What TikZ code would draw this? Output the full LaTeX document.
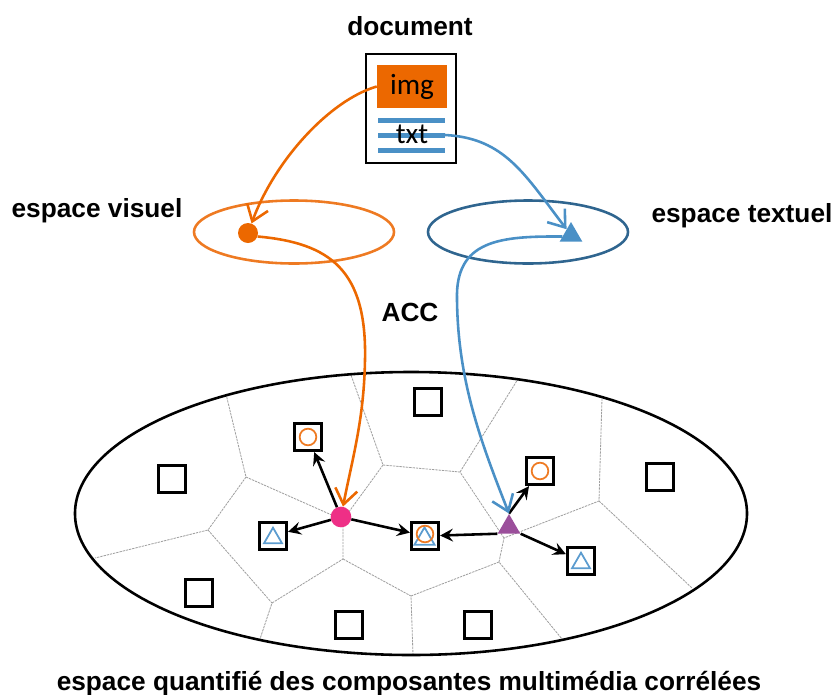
\documentclass[tikz,border=0pt]{standalone}
\usepackage{fontspec}
\setmainfont{Liberation Sans}
\newfontfamily\calibrifont{Carlito}
\usetikzlibrary{arrows.meta,shapes.geometric}
\definecolor{orangeimg}{HTML}{EC6800}
\definecolor{orangecl}{HTML}{EE7A22}
\definecolor{bluetxt}{HTML}{4A90C6}
\definecolor{bluedark}{HTML}{2F658F}
\definecolor{bluecl}{HTML}{5C9CCF}
\definecolor{pinkdot}{HTML}{EE2F86}
\definecolor{purpletri}{HTML}{9B4F9B}
\tikzset{
  titre/.style={font=\fontsize{22.4}{26}\selectfont\bfseries},
  carre/.style={draw=black, line width=3pt, minimum size=0.8cm, inner sep=0pt},
  rond/.style={circle, draw=orangecl, line width=1.5pt, minimum size=0.5cm, inner sep=0pt},
  tri/.style={regular polygon, regular polygon sides=3, draw=bluecl, line width=1.5pt, minimum size=0.62cm, inner sep=0pt},
  cellule/.style={gray!75, line width=0.7pt, dash pattern=on 2pt off 0.8pt},
  lien/.style={-{Stealth[length=11pt,width=11pt,inset=4pt]}, black, line width=2.2pt},
  flecheo/.style={-{Straight Barb[length=13pt,width=19pt]}, orangeimg, line width=2.2pt},
  flecheb/.style={-{Straight Barb[length=13pt,width=19pt]}, bluetxt, line width=2.2pt},
  ligne/.style={fill=bluetxt, minimum width=2.0cm, minimum height=0.15cm, inner sep=0pt}
}
\begin{document}
\begin{tikzpicture}[x=0.03cm, y=-0.03cm]
\useasboundingbox (0,0) rectangle (834,695);

% Cell corners of the quantified space
\coordinate (a) at (226,394);
\coordinate (b) at (246,477);
\coordinate (c) at (208,530);
\coordinate (d) at (95,558);
\coordinate (e) at (272,603);
\coordinate (f) at (260,639);
\coordinate (g) at (343,559);
\coordinate (h) at (343,520);
\coordinate (i) at (411,596);
\coordinate (j) at (413,655);
\coordinate (k) at (383,465);
\coordinate (l) at (351,375);
\coordinate (m) at (460,472);
\coordinate (n) at (518,379);
\coordinate (o) at (499,562);
\coordinate (p) at (504,538);
\coordinate (q) at (562,639);
\coordinate (r) at (599,501);
\coordinate (s) at (602,398);
\coordinate (t) at (692,588);

% Cell borders
\draw[cellule] (a) -- (b) -- (c) -- (d);
\draw[cellule] (c) -- (e) -- (f);
\draw[cellule] (e) -- (g) -- (h);
\draw[cellule] (g) -- (i) -- (j);
\draw[cellule] (i) -- (o) -- (q);
\draw[cellule] (o) -- (p) -- (r) -- (s);
\draw[cellule] (r) -- (t);
\draw[cellule] (p) -- (m) -- (k) -- (l);
\draw[cellule] (m) -- (n);
\draw[cellule] (b) -- (h);
\draw[cellule] (k) -- (h);

% The three ellipses
\node[ellipse, draw=black, line width=2.2pt, minimum width=20.16cm, minimum height=8.49cm] (espq) at (411,513.5) {};
\node[ellipse, draw=orangecl, line width=2.2pt, minimum width=6cm, minimum height=1.89cm] (espv) at (294,232) {};
\node[ellipse, draw=bluedark, line width=2.2pt, minimum width=6cm, minimum height=1.89cm] (espt) at (528,232) {};

% Document
\node[draw=black, line width=2.2pt, minimum width=2.7cm, minimum height=3.27cm, inner sep=0pt] (doc) at (411,108.5) {};
\node[fill=orangeimg, minimum width=2.1cm, minimum height=1.29cm, inner sep=0pt, font=\calibrifont\fontsize{25}{30}\selectfont] (img) at (412,86.5) {img};
\node[ligne] (ligA) at (411.5,120) {};
\node[ligne] (ligB) at (411.5,135) {};
\node[ligne] (ligC) at (411.5,150) {};
\node[font=\calibrifont\fontsize{25}{30}\selectfont, inner sep=0pt] (txt) at (412,134) {txt};

% Squares of the space
\node[carre] (c1) at (172,479) {};
\node[carre] (c2) at (199,593) {};
\node[carre] (c3) at (349,625) {};
\node[carre] (c4) at (428,402) {};
\node[carre] (c5) at (478,625) {};
\node[carre] (c6) at (660,477) {};
\node[carre] (c7) at (308,437) {};
\node[carre] (c8) at (273,536) {};
\node[carre] (c9) at (425,536) {};
\node[carre] (c10) at (540,471) {};
\node[carre] (c11) at (581,561) {};

% Marks inside the squares
\node[rond] (r7) at (308,437) {};
\node[tri] (t8) at (273,538) {};
\node[tri, minimum size=0.7cm] (t9) at (424.5,539) {};
\node[rond] (r9) at (425,534) {};
\node[rond] (r10) at (540,471) {};
\node[tri] (t11) at (581,563) {};

% Points
\node[circle, fill=orangeimg, minimum size=0.6cm, inner sep=0pt] (ptv) at (248,233) {};
\node[regular polygon, regular polygon sides=3, fill=bluetxt, minimum size=0.78cm, inner sep=0pt] (ptt) at (571,235) {};
\node[circle, fill=pinkdot, minimum size=0.62cm, inner sep=0pt] (ptq) at (341,517) {};
\node[regular polygon, regular polygon sides=3, fill=purpletri, minimum size=0.78cm, inner sep=0pt] (ptr) at (509,527) {};

% Links to the neighbours
\draw[lien] (ptq) -- (c7);
\draw[lien] (ptq) -- (c8);
\draw[lien] (ptq) -- (c9);
\draw[lien] (ptr.corner 1) -- (c10);
\draw[lien] (ptr.corner 2) -- (c9);
\draw[lien] (ptr.corner 3) -- (c11);

% Projections
\draw[flecheo] (img.west) .. controls (330,100) and (275,160) .. (ptv);
\draw[flecheo] (ptv.-20) .. controls (330,243) and (367,270) .. (365,360) .. controls (364,420) and (352,460) .. (ptq);
\draw[flecheb] (ligB.east) .. controls (505,138) and (525,175) .. (ptt);
\draw[flecheb] (ptt.190) .. controls (500,236) and (455,240) .. (457,300) .. controls (458,380) and (480,440) .. (ptr.corner 1);

% Labels
\node[titre] (ldoc) at (410,26) {document};
\node[titre] (lvis) at (97,211) {espace visuel};
\node[titre] (ltxt) at (742,216) {espace textuel};
\node[titre] (lacc) at (410,312) {ACC};
\node[titre] (lesp) at (409,684) {espace quantifié des composantes multimédia corrélées};
\end{tikzpicture}
\end{document}
